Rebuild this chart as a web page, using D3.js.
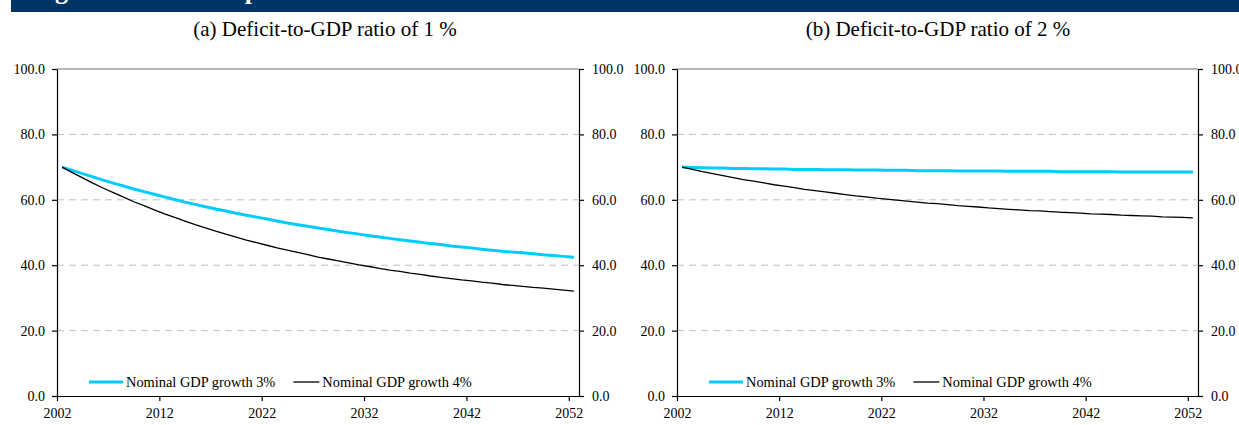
<!DOCTYPE html>
<html lang="en">
<head>
    <meta charset="UTF-8">
    <title>Debt-to-GDP ratio paths</title>
    <style>
        body {
            margin: 0;
            background: #fff;
        }
        svg {
            display: block;
            font-family: "Liberation Serif", "Times New Roman", serif;
        }
        .grid line {
            stroke: #c0c0c0;
            stroke-width: 1;
            stroke-dasharray: 7, 5;
        }
        .axis {
            font-family: "Liberation Serif", "Times New Roman", serif;
        }
        .axis path, .axis line {
            stroke: #000;
            stroke-width: 1.2;
        }
        .axis text {
            font-size: 14px;
            fill: #000;
        }
        .subtitle {
            font-size: 21px;
            text-anchor: middle;
            fill: #000;
        }
        .legend text {
            font-size: 14.4px;
            fill: #000;
        }
    </style>
</head>
<body>
    <svg width="1239" height="425"></svg>
    <script src="https://d3js.org/d3.v7.min.js"></script>
    <script>
        var years = [2002, 2003, 2004, 2005, 2006, 2007, 2008, 2009, 2010, 2011,
            2012, 2013, 2014, 2015, 2016, 2017, 2018, 2019, 2020, 2021,
            2022, 2023, 2024, 2025, 2026, 2027, 2028, 2029, 2030, 2031,
            2032, 2033, 2034, 2035, 2036, 2037, 2038, 2039, 2040, 2041,
            2042, 2043, 2044, 2045, 2046, 2047, 2048, 2049, 2050, 2051, 2052];
        var yearTicks = [2002, 2012, 2022, 2032, 2042, 2052];
        var ratioTicks = [0, 20, 40, 60, 80, 100];
        var seriesNames = ["Nominal GDP growth 3%", "Nominal GDP growth 4%"];

        // (a) deficit 1 %
        var deficit1Growth3 = [70.0, 69.0, 68.0, 67.0, 66.0, 65.1, 64.2, 63.3, 62.5, 61.7,
            60.9, 60.1, 59.3, 58.6, 57.9, 57.2, 56.6, 55.9, 55.3, 54.7,
            54.1, 53.5, 52.9, 52.4, 51.9, 51.4, 50.9, 50.4, 49.9, 49.5,
            49.0, 48.6, 48.2, 47.8, 47.4, 47.0, 46.6, 46.3, 45.9, 45.6,
            45.3, 44.9, 44.6, 44.3, 44.0, 43.8, 43.5, 43.2, 43.0, 42.7, 42.4];
        var deficit1Growth4 = [70.0, 68.3, 66.7, 65.1, 63.6, 62.2, 60.8, 59.4, 58.2, 56.9,
            55.7, 54.6, 53.5, 52.4, 51.4, 50.4, 49.5, 48.6, 47.7, 46.9,
            46.1, 45.3, 44.6, 43.9, 43.2, 42.5, 41.9, 41.3, 40.7, 40.1,
            39.6, 39.0, 38.5, 38.1, 37.6, 37.2, 36.7, 36.3, 35.9, 35.5,
            35.2, 34.8, 34.5, 34.1, 33.8, 33.5, 33.2, 33.0, 32.7, 32.4, 32.1];

        // (b) deficit 2 %
        var deficit2Growth3 = [70.0, 69.9, 69.8, 69.7, 69.7, 69.6, 69.6, 69.5, 69.5, 69.4,
            69.4, 69.3, 69.3, 69.3, 69.2, 69.2, 69.2, 69.1, 69.1, 69.1,
            69.0, 69.0, 69.0, 68.9, 68.9, 68.9, 68.9, 68.8, 68.8, 68.8,
            68.8, 68.8, 68.7, 68.7, 68.7, 68.7, 68.7, 68.6, 68.6, 68.6,
            68.6, 68.6, 68.6, 68.5, 68.5, 68.5, 68.5, 68.5, 68.5, 68.5, 68.5];
        var deficit2Growth4 = [70.0, 69.3, 68.6, 68.0, 67.4, 66.8, 66.2, 65.7, 65.2, 64.6,
            64.2, 63.7, 63.2, 62.8, 62.4, 62.0, 61.6, 61.2, 60.9, 60.5,
            60.2, 59.9, 59.6, 59.3, 59.0, 58.8, 58.5, 58.2, 58.0, 57.8,
            57.5, 57.3, 57.1, 56.9, 56.7, 56.6, 56.4, 56.2, 56.1, 55.9,
            55.7, 55.6, 55.5, 55.3, 55.2, 55.1, 55.0, 54.8, 54.7, 54.6, 54.5];

        var svg = d3.select("svg");

        // header band, mostly cut off at the top of the page
        svg.append("rect")
            .attr("x", 11).attr("y", 0)
            .attr("width", 1228).attr("height", 12)
            .style("fill", "#003366");
        svg.append("text")
            .attr("x", 32).attr("y", -1)
            .text("Figure 1: The debt path")
            .style("font-size", "26px")
            .style("font-weight", "bold")
            .style("fill", "#fff");

        var panels = [
            { title: "(a) Deficit-to-GDP ratio of 1 %", left: 57, right: 579, titleX: 325,
              series: [deficit1Growth3, deficit1Growth4] },
            { title: "(b) Deficit-to-GDP ratio of 2 %", left: 677, right: 1198, titleX: 938,
              series: [deficit2Growth3, deficit2Growth4] }
        ];
        var colors = ["#00ccff", "#000000"];
        var widths = [3, 1.3];

        var plotTop = 69, plotBottom = 396;
        var y = d3.scaleLinear().domain([0, 100]).range([plotBottom, plotTop]);

        panels.forEach(function (p) {
            // categories sit between tick marks: one slot per year
            var x = d3.scaleLinear()
                .domain([years[0], years[years.length - 1] + 1])
                .range([p.left, p.right]);

            svg.append("text")
                .attr("class", "subtitle")
                .attr("x", p.titleX).attr("y", 36)
                .text(p.title);

            svg.append("g")
                .attr("class", "grid")
                .selectAll("line")
                .data(ratioTicks.filter(function (d) { return d > 0 && d < 100; }))
                .enter()
                .append("line")
                .attr("x1", p.left).attr("x2", p.right)
                .attr("y1", (d) => y(d)).attr("y2", (d) => y(d));

            svg.append("line")
                .attr("x1", p.left).attr("x2", p.right)
                .attr("y1", y(100)).attr("y2", y(100))
                .style("stroke", "#6e6e6e")
                .style("stroke-width", 1.2);

            svg.append("g")
                .attr("class", "axis")
                .attr("transform", "translate(" + p.left + ",0)")
                .call(d3.axisLeft(y).tickValues(ratioTicks)
                    .tickFormat(d3.format(".1f")).tickSize(5).tickSizeOuter(0).tickPadding(7));

            svg.append("g")
                .attr("class", "axis")
                .attr("transform", "translate(" + p.right + ",0)")
                .call(d3.axisRight(y).tickValues(ratioTicks)
                    .tickFormat(d3.format(".1f")).tickSize(5).tickSizeOuter(0).tickPadding(8));

            svg.append("g")
                .attr("class", "axis")
                .attr("transform", "translate(0," + plotBottom + ")")
                .call(d3.axisBottom(x).tickValues(yearTicks)
                    .tickFormat(d3.format("d")).tickSize(5).tickSizeOuter(0).tickPadding(7));

            var line = d3.line()
                .x((d, i) => x(years[i] + 0.5))
                .y((d) => y(d));

            p.series.forEach(function (s, k) {
                svg.append("path")
                    .datum(s)
                    .attr("d", line)
                    .style("fill", "none")
                    .style("stroke", colors[k])
                    .style("stroke-width", widths[k])
                    .style("stroke-linejoin", "round");
            });

            // legend inside the plot, near the bottom
            var legend = svg.append("g")
                .attr("class", "legend")
                .attr("transform", "translate(" + (p.left + 32) + ",382)");
            var cursor = 0;
            seriesNames.forEach(function (name, k) {
                var segLen = k === 0 ? 34 : 26;
                legend.append("line")
                    .attr("x1", cursor).attr("x2", cursor + segLen)
                    .attr("y1", 0).attr("y2", 0)
                    .style("stroke", colors[k])
                    .style("stroke-width", widths[k]);
                var t = legend.append("text")
                    .attr("x", cursor + segLen + 3)
                    .attr("y", 5)
                    .text(name);
                cursor += segLen + 3 + t.node().getComputedTextLength() + 18;
            });
        });
    </script>
</body>
</html>
